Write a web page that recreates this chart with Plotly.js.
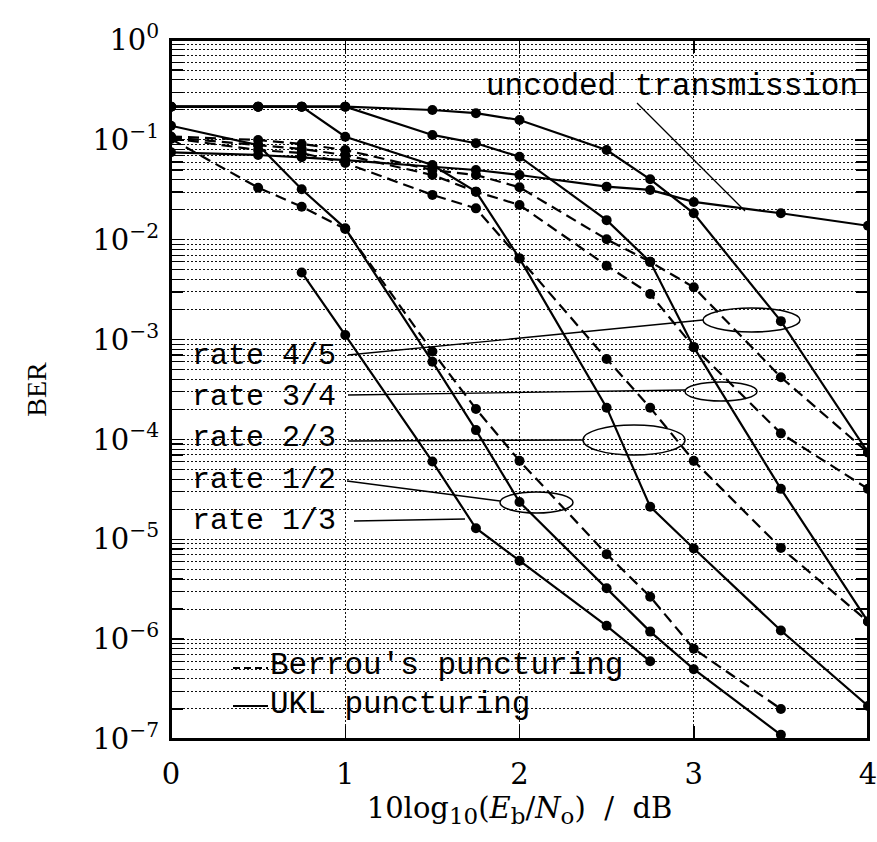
<!DOCTYPE html>
<html><head><meta charset="utf-8">
<script src="https://cdn.plot.ly/plotly-3.0.1.min.js"></script>
<style>html,body{margin:0;padding:0;background:#fff;}</style>
</head><body>
<div id="chart" style="width:877px;height:842px;"></div>
<script>
// Eb/No values (dB)
const ebnoFull = [0, 0.5, 0.75, 1, 1.5, 1.75, 2, 2.5, 2.75, 3, 3.5, 4];
const ebnoHalf = [0, 0.5, 0.75, 1, 1.5, 1.75, 2, 2.5, 2.75, 3, 3.5];
const ebnoThird = [0.75, 1, 1.5, 1.75, 2, 2.5, 2.75];

// BER values
const berUncoded   = [0.0750, 0.0705, 0.0669, 0.0628, 0.0538, 0.0499, 0.0445, 0.0340, 0.0315, 0.0239, 0.0184, 0.0138];
const berR45UKL    = [0.215, 0.215, 0.215, 0.215, 0.199, 0.185, 0.158, 0.0791, 0.0403, 0.0184, 0.00153, 7.4e-5];
const berR45Berrou = [0.108, 0.0997, 0.0909, 0.0791, 0.0499, 0.0445, 0.0335, 0.0101, 0.0060, 0.00334, 4.2e-4, 7.4e-5];
const berR34UKL    = [0.215, 0.215, 0.215, 0.215, 0.112, 0.0924, 0.0678, 0.0157, 0.0060, 8.4e-4, 3.2e-5, 1.5e-6];
const berR34Berrou = [0.106, 0.0888, 0.0810, 0.0705, 0.0445, 0.0303, 0.0223, 0.0055, 0.00286, 8.4e-4, 1.15e-4, 3.2e-5];
const berR23UKL    = [0.215, 0.215, 0.215, 0.1076, 0.0560, 0.0303, 0.0065, 2.08e-4, 2.12e-5, 8.1e-6, 1.22e-6, 2.14e-7];
const berR23Berrou = [0.104, 0.0791, 0.0738, 0.0586, 0.0281, 0.0206, 0.0065, 6.4e-4, 2.08e-4, 6.1e-5, 8.2e-6, 1.5e-6];
const berR12UKL    = [0.1386, 0.0888, 0.0320, 0.0130, 6.0e-4, 1.24e-4, 2.36e-5, 3.23e-6, 1.19e-6, 5.0e-7, 1.1e-7];
const berR12Berrou = [0.102, 0.0332, 0.0214, 0.0128, 7.6e-4, 2.02e-4, 6.1e-5, 7.1e-6, 2.66e-6, 8.0e-7, 2.0e-7];
const berR13UKL    = [4.7e-3, 1.11e-3, 6.0e-5, 1.29e-5, 6.1e-6, 1.36e-6, 6.0e-7];

// Axis ticks
const xTickVals = [0, 1, 2, 3, 4];
const xTickText = ['0', '1', '2', '3', '4'];
const yTickVals = [1, 1e-1, 1e-2, 1e-3, 1e-4, 1e-5, 1e-6, 1e-7];
const yTickText = ['10<sup>0</sup>', '10<sup>\u22121</sup>', '10<sup>\u22122</sup>', '10<sup>\u22123</sup>',
                   '10<sup>\u22124</sup>', '10<sup>\u22125</sup>', '10<sup>\u22126</sup>', '10<sup>\u22127</sup>'];
const minorMantissas = [2, 3, 4, 5, 6, 7, 8, 9];
const decadeExps = [-7, -6, -5, -4, -3, -2, -1];

// Labels
const rateLabels = ['rate 4/5', 'rate 3/4', 'rate 2/3', 'rate 1/2', 'rate 1/3'];
const legendLabels = ["Berrou's puncturing", 'UKL puncturing'];
const uncodedLabel = 'uncoded transmission';
const xTitle = '10log<sub><span style="font-size:23px">10</span></sub>(<i>E</i><sub><span style="font-size:23px">b</span></sub>/<i>N</i><sub><span style="font-size:23px">o</span></sub>)  /  dB';

const minorVals = [];
decadeExps.forEach(e => minorMantissas.forEach(m => minorVals.push(m * Math.pow(10, e))));

const DASH = '11px,6px';
function mk(x, y, dash) {
  return {
    x: x, y: y, type: 'scatter', mode: 'lines+markers', showlegend: false,
    line: {color: '#000', width: 2.2, dash: dash},
    marker: {color: '#000', size: 10, symbol: 'circle'},
    hoverinfo: 'skip'
  };
}
const traces = [
  mk(ebnoFull, berUncoded, 'solid'),
  mk(ebnoFull, berR45Berrou, DASH),
  mk(ebnoFull, berR34Berrou, DASH),
  mk(ebnoFull, berR23Berrou, DASH),
  mk(ebnoHalf, berR12Berrou, DASH),
  mk(ebnoFull, berR45UKL, 'solid'),
  mk(ebnoFull, berR34UKL, 'solid'),
  mk(ebnoFull, berR23UKL, 'solid'),
  mk(ebnoHalf, berR12UKL, 'solid'),
  mk(ebnoThird, berR13UKL, 'solid')
];

// paper-coordinate helpers for decorations (plot area 171..868 x 40..739 px)
const PL = 171, PR = 868, PT = 40, PB = 739;
const px = v => (v - PL) / (PR - PL);
const py = v => (PB - v) / (PB - PT);

const labelFont = {family: 'Liberation Mono', size: 30, color: '#000'};
const bigFont = {family: 'Liberation Mono', size: 31, color: '#000'};

const rateLabelY = [356, 397, 438, 480, 521];
const annotations = rateLabels.map((t, i) => ({
  text: t, xref: 'paper', yref: 'paper', x: px(190), y: py(rateLabelY[i]),
  xanchor: 'left', yanchor: 'middle', showarrow: false, font: labelFont
}));
annotations.push({text: uncodedLabel, xref: 'paper', yref: 'paper', x: px(484), y: py(86),
  xanchor: 'left', yanchor: 'middle', showarrow: false, font: bigFont});
annotations.push({text: legendLabels[0], xref: 'paper', yref: 'paper', x: px(268), y: py(665),
  xanchor: 'left', yanchor: 'middle', showarrow: false, font: bigFont});
annotations.push({text: legendLabels[1], xref: 'paper', yref: 'paper', x: px(268), y: py(704),
  xanchor: 'left', yanchor: 'middle', showarrow: false, font: bigFont});

function seg(x0, y0, x1, y1, w, dash) {
  return {type: 'line', xref: 'paper', yref: 'paper', x0: px(x0), y0: py(y0), x1: px(x1), y1: py(y1),
    line: {color: '#000', width: w || 1.3, dash: dash || 'solid'}};
}
function ell(x0, y0, x1, y1) {
  return {type: 'circle', xref: 'paper', yref: 'paper', x0: px(x0), y0: py(y1), x1: px(x1), y1: py(y0),
    line: {color: '#000', width: 1.5}, fillcolor: 'rgba(0,0,0,0)'};
}
const shapes = [
  {type: 'rect', xref: 'paper', yref: 'paper', x0: 0, y0: 0, x1: 1, y1: 1,
   line: {color: '#000', width: 2}, fillcolor: 'rgba(0,0,0,0)'},
  seg(637, 103, 745, 211),
  seg(348, 355, 703, 320),
  seg(348, 395, 685, 390),
  seg(348, 441, 583, 440, 1.6),
  seg(347, 481, 500, 501),
  seg(354, 521, 465, 519),
  ell(703, 308, 800, 332),
  ell(685, 382, 757, 401),
  ell(583, 425, 685, 455),
  ell(500, 492, 573, 513),
  seg(233, 668, 268, 668, 2, '7px,4px'),
  seg(233, 706, 268, 706, 2)
];

const gridDash = '2px,2px';
const gridColor = '#111';
const layout = {
  width: 877, height: 842,
  margin: {l: PL, r: 877 - PR, t: PT, b: 842 - PB, pad: 0},
  paper_bgcolor: '#fff', plot_bgcolor: '#fff',
  font: {family: 'DejaVu Serif', color: '#000'},
  showlegend: false,
  xaxis: {
    range: [0, 4], tickmode: 'array', tickvals: xTickVals, ticktext: xTickText,
    ticks: 'inside', ticklen: 13, tickwidth: 1.5, tickcolor: '#000',
    showline: true, linecolor: '#000', linewidth: 2, mirror: 'allticks',
    showgrid: true, gridcolor: gridColor, griddash: gridDash, gridwidth: 1, zeroline: false,
    tickfont: {family: 'DejaVu Serif', size: 29, color: '#000'}, ticklabelstandoff: 8,
    ticklabeloverflow: 'allow',
    title: {text: xTitle, font: {family: 'DejaVu Serif', size: 29, color: '#000'}, standoff: 6}
  },
  yaxis: {
    type: 'log', range: [-7, 0], tickmode: 'array', tickvals: yTickVals, ticktext: yTickText,
    ticks: 'inside', ticklen: 13, tickwidth: 1.5, tickcolor: '#000',
    showline: true, linecolor: '#000', linewidth: 2, mirror: 'allticks',
    showgrid: true, gridcolor: gridColor, griddash: gridDash, gridwidth: 1, zeroline: false,
    tickfont: {family: 'DejaVu Serif', size: 29, color: '#000'}, ticklabelstandoff: 4,
    ticklabeloverflow: 'allow',
    minor: {tickmode: 'array', tickvals: minorVals, ticks: 'inside', ticklen: 12, tickwidth: 1.2,
      tickcolor: '#000', showgrid: true, gridcolor: gridColor, griddash: gridDash, gridwidth: 1},
    title: {text: 'BER', font: {family: 'Liberation Serif', size: 28, color: '#000'}, standoff: 38}
  },
  annotations: annotations,
  shapes: shapes
};

Plotly.newPlot('chart', traces, layout, {staticPlot: true, displayModeBar: false});
</script>
</body></html>
